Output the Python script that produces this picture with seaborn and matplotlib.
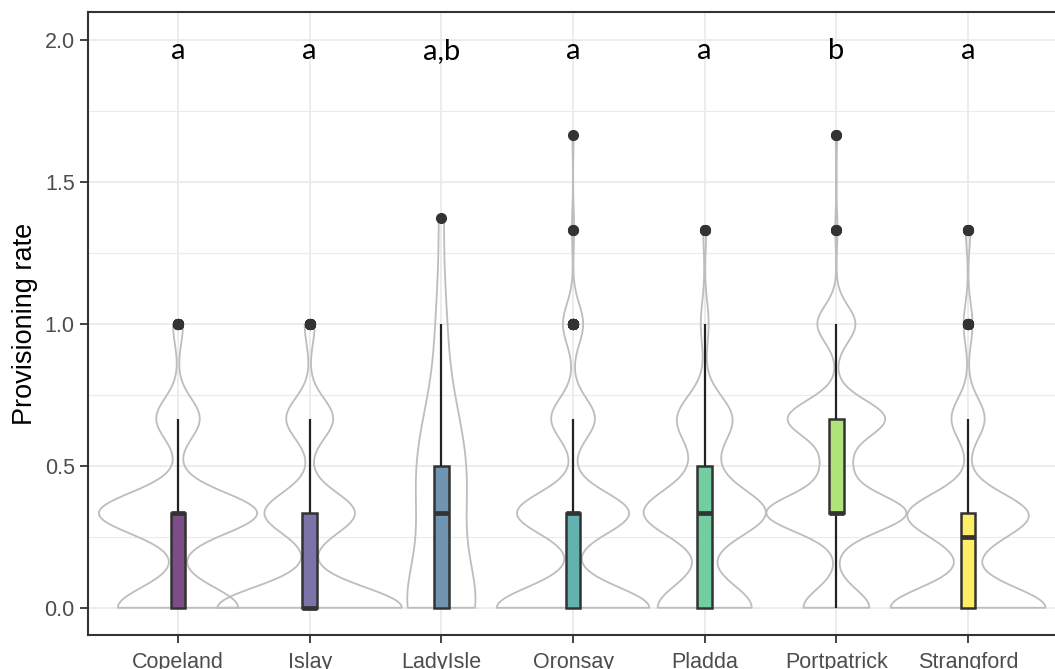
import numpy as np
import pandas as pd
import matplotlib
matplotlib.use("Agg")
import matplotlib.pyplot as plt
from matplotlib.ticker import MultipleLocator
import seaborn as sns

# ---------------- data ----------------
sites = ["Copeland", "Islay", "LadyIsle", "Oronsay", "Pladda", "Portpatrick", "Strangford"]
# observed provisioning-rate values and number of observations at each value
rate_levels = [0.0, 0.25, 1/3, 0.5, 2/3, 0.75, 1.0, 4/3, 1.375, 5/3]
copeland_counts    = [108, 0, 142, 0, 39, 0, 9, 0, 0, 0]
islay_counts       = [165, 0, 81, 0, 42, 0, 9, 0, 0, 0]
ladyisle_counts    = [14, 2, 4, 6, 3, 1, 2, 0, 1, 0]
oronsay_counts     = [136, 0, 100, 0, 39, 0, 18, 2, 0, 1]
pladda_counts      = [96, 0, 123, 15, 55, 0, 8, 3, 0, 0]
portpatrick_counts = [90, 0, 190, 35, 132, 0, 52, 3, 0, 2]
strangford_counts  = [140, 20, 99, 0, 30, 0, 8, 4, 0, 0]
letters = ["a", "a", "a,b", "a", "a", "b", "a"]
y_ticks = [0.0, 0.5, 1.0, 1.5, 2.0]
y_tick_labels = ["0.0", "0.5", "1.0", "1.5", "2.0"]

counts_by_site = [copeland_counts, islay_counts, ladyisle_counts, oronsay_counts,
                  pladda_counts, portpatrick_counts, strangford_counts]
rows = []
for s, cnts in zip(sites, counts_by_site):
    vals = np.repeat(rate_levels, cnts)
    rows.append(pd.DataFrame({"site": s, "rate": vals}))
df = pd.concat(rows, ignore_index=True)


def nrd0(kde):
    """R's bw.nrd0 bandwidth (as used by ggplot2), returned as scipy factor."""
    x = np.asarray(kde.dataset).ravel()
    sd = x.std(ddof=1)
    q75, q25 = np.percentile(x, [75, 25])
    lo = min(sd, (q75 - q25) / 1.34)
    if lo <= 0:
        lo = sd if sd > 0 else 1.0
    h = 0.9 * lo * len(x) ** -0.2
    return h / sd


# ---------------- figure ----------------
fig = plt.figure(figsize=(10.55, 6.69), dpi=100)
W, H = 1055, 669
left, right, bottom, top = 88, 1058, 635, 12
ax = fig.add_axes([left / W, (H - bottom) / H, (right - left) / W, (bottom - top) / H])

cmap = plt.get_cmap("viridis")
base = cmap(np.linspace(0, 1, len(sites)))[:, :3]
box_colors = [tuple(0.7 * c + 0.3) for c in base]

sns.violinplot(data=df, x="site", y="rate", order=sites, color="#BDBDBD", fill=False,
               inner=None, cut=0, density_norm="area", width=1.4, bw_method=nrd0,
               gridsize=400, linewidth=1.3, saturation=1, ax=ax)

sns.boxplot(data=df, x="site", y="rate", order=sites, hue="site", hue_order=sites,
            palette=box_colors, legend=False, width=0.11, saturation=1,
            linecolor="#333333", linewidth=1.8, showcaps=False,
            medianprops=dict(linewidth=3.4, color="#333333"),
            whiskerprops=dict(linewidth=1.6, color="#222222"),
            flierprops=dict(marker="o", markerfacecolor="#333333",
                            markeredgecolor="#333333", markersize=7),
            ax=ax)

for i, lab in enumerate(letters):
    ax.text(i, 1.934, lab, ha="center", va="baseline", fontsize=21,
            family=["Lato", "DejaVu Sans"], color="black")

ax.set_xlim(-0.6835, 6.683)
ax.set_ylim(-0.096, 2.10)
ax.set_yticks(y_ticks)
ax.set_yticklabels(y_tick_labels)
ax.yaxis.set_minor_locator(MultipleLocator(0.25))

ax.set_facecolor("white")
ax.set_axisbelow(True)
ax.grid(which="major", axis="both", color="#EBEBEB", linewidth=1.3)
ax.grid(which="minor", axis="y", color="#EBEBEB", linewidth=0.8)
for sp in ax.spines.values():
    sp.set_color("#333333")
    sp.set_linewidth(1.5)

ax.tick_params(axis="both", which="major", length=5.5, width=1.3, color="#333333",
               labelcolor="#4D4D4D", labelsize=15.5, pad=4)
ax.tick_params(axis="x", which="major", pad=6.5)
ax.tick_params(axis="y", which="minor", length=0)
for t in ax.get_xticklabels() + ax.get_yticklabels():
    t.set_family(["Liberation Sans", "DejaVu Sans"])

ax.set_xlabel("")
ax.set_ylabel("Provisioning rate", fontsize=19.5, family=["Liberation Sans", "DejaVu Sans"],
              color="black")
ax.yaxis.set_label_coords(-0.052, 0.5)

fig.savefig("out.png", dpi=100)
